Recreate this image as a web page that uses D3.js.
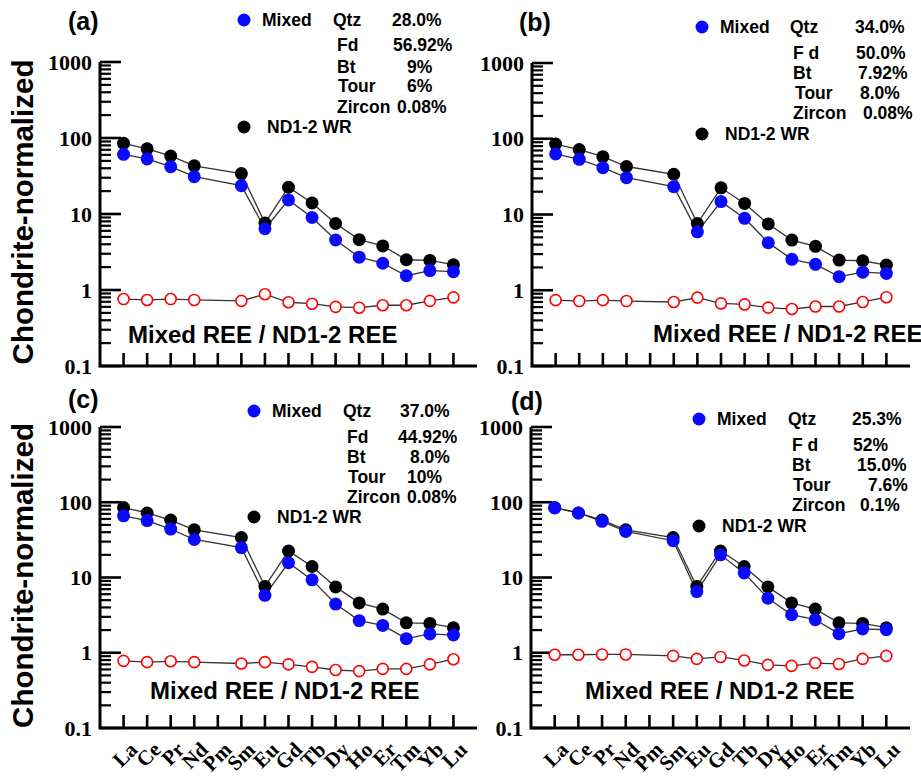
<!DOCTYPE html>
<html>
<head>
<meta charset="utf-8">
<script src="https://cdn.jsdelivr.net/npm/d3@7/dist/d3.min.js"></script>
<style>
  html, body { margin: 0; padding: 0; background: #fff; }
  svg { display: block; }
</style>
</head>
<body>
<svg id="chart" width="921" height="779"></svg>
<script>
// ---------- DATA ----------
const elements = ["La","Ce","Pr","Nd","Pm","Sm","Eu","Gd","Tb","Dy","Ho","Er","Tm","Yb","Lu"];
const yTickValues = [0.1, 1, 10, 100, 1000];
const yTickLabels = ["0.1", "1", "10", "100", "1000"];

// ND1-2 whole rock (chondrite-normalized); Pm not measured
const wrND12 = [85, 72, 58, 43, null, 34, 7.6, 22.5, 14, 7.5, 4.6, 3.8, 2.5, 2.45, 2.15];

// Mixed (modelled) REE patterns
const mixedA = [61, 53, 42, 31, null, 23.6, 6.4, 15.3, 9.0, 4.55, 2.7, 2.25, 1.54, 1.8, 1.74];
const mixedB = [63, 53.5, 41.5, 30.6, null, 23.3, 5.9, 14.8, 8.9, 4.25, 2.56, 2.2, 1.51, 1.73, 1.67];
const mixedC = [66, 57, 44, 32, null, 24.9, 5.8, 15.7, 9.3, 4.44, 2.67, 2.31, 1.54, 1.78, 1.72];
const mixedD = [84, 72, 55.7, 41, null, 30.8, 6.5, 20, 11.5, 5.3, 3.2, 2.75, 1.79, 2.07, 2.02];

// Mixed REE / ND1-2 REE ratios
const ratioA = [0.76, 0.74, 0.76, 0.74, null, 0.72, 0.88, 0.69, 0.66, 0.60, 0.585, 0.63, 0.63, 0.72, 0.80];
const ratioB = [0.74, 0.72, 0.74, 0.72, null, 0.70, 0.80, 0.67, 0.65, 0.59, 0.565, 0.61, 0.61, 0.70, 0.81];
const ratioC = [0.78, 0.75, 0.77, 0.75, null, 0.72, 0.75, 0.70, 0.65, 0.59, 0.57, 0.61, 0.61, 0.70, 0.82];
const ratioD = [0.94, 0.94, 0.95, 0.95, null, 0.91, 0.83, 0.88, 0.79, 0.69, 0.67, 0.73, 0.71, 0.83, 0.91];

// Mixing proportions
const mineralsAC = ["Qtz", "Fd", "Bt", "Tour", "Zircon"];
const mineralsBD = ["Qtz", "F d", "Bt", "Tour", "Zircon"];
const propA = ["28.0%", "56.92%", "9%", "6%", "0.08%"];
const propB = ["34.0%", "50.0%", "7.92%", "8.0%", "0.08%"];
const propC = ["37.0%", "44.92%", "8.0%", "10%", "0.08%"];
const propD = ["25.3%", "52%", "15.0%", "7.6%", "0.1%"];

const panelLabels = ["(a)", "(b)", "(c)", "(d)"];
const seriesNames = ["Mixed", "ND1-2 WR"];
const ratioTitle = "Mixed REE / ND1-2 REE";
const yTitle = "Chondrite-normalized";

// ---------- LAYOUT ----------
const panels = [
  { label: panelLabels[0], mixed: mixedA, ratio: ratioA, minerals: mineralsAC, props: propA,
    x0: 100, x1: 477, yTop: 62, yBot: 366, labelPos: [68, 30], yTitle: true, xLabels: false,
    leg: { dx: 244, dy: 20, mixedX: 262, mineralX: [333, 337, 337, 338, 337], valueX: [392, 393, 407, 407, 397],
           rowY: [20, 45, 67, 86, 107], ndY: 127, ndX: 267 },
    ratioText: [128, 343] },
  { label: panelLabels[1], mixed: mixedB, ratio: ratioB, minerals: mineralsBD, props: propB,
    x0: 532, x1: 910, yTop: 63, yBot: 366, labelPos: [519, 31], yTitle: false, xLabels: false,
    leg: { dx: 702, dy: 27, mixedX: 720, mineralX: [790, 793, 793, 795, 793], valueX: [855, 856, 858, 860, 863],
           rowY: [27, 53, 73, 93, 113], ndY: 134, ndX: 725 },
    ratioText: [653, 342] },
  { label: panelLabels[2], mixed: mixedC, ratio: ratioC, minerals: mineralsAC, props: propC,
    x0: 100, x1: 477, yTop: 427, yBot: 728, labelPos: [68, 408], yTitle: true, xLabels: true,
    leg: { dx: 254, dy: 411, mixedX: 272, mineralX: [343, 347, 347, 348, 347], valueX: [400, 398, 410, 407, 407],
           rowY: [411, 437, 457, 477, 497], ndY: 517, ndX: 277 },
    ratioText: [150, 699] },
  { label: panelLabels[3], mixed: mixedD, ratio: ratioD, minerals: mineralsBD, props: propD,
    x0: 531, x1: 910, yTop: 427, yBot: 728, labelPos: [511, 410], yTitle: false, xLabels: true,
    leg: { dx: 699, dy: 419, mixedX: 717, mineralX: [788, 792, 792, 793, 792], valueX: [852, 853, 857, 868, 860],
           rowY: [419, 445, 465, 485, 505], ndY: 526, ndX: 722 },
    ratioText: [585, 699] }
];

const svg = d3.select("#chart");
const sans = "'Liberation Sans', Arial, Helvetica, sans-serif";
const serif = "'Liberation Serif', 'Times New Roman', serif";

panels.forEach(p => {
  const g = svg.append("g");
  const x = d3.scalePoint().domain(elements).range([p.x0, p.x1]).padding(1);
  const y = d3.scaleLog().domain([0.1, 1000]).range([p.yBot, p.yTop]);

  // minor ticks (2..9 of each decade)
  const minor = [];
  for (let e = -1; e < 3; e++) for (let k = 2; k <= 9; k++) minor.push(k * Math.pow(10, e));
  g.selectAll("line.minor").data(minor).join("line")
    .attr("x1", p.x0).attr("x2", p.x0 + 11)
    .attr("y1", d => y(d)).attr("y2", d => y(d))
    .attr("stroke", "#000").attr("stroke-width", 2.2);
  g.selectAll("line.major").data(yTickValues).join("line")
    .attr("x1", p.x0).attr("x2", p.x0 + 21)
    .attr("y1", d => y(d)).attr("y2", d => y(d))
    .attr("stroke", "#000").attr("stroke-width", 2.6);

  // y tick labels
  g.selectAll("text.ytl").data(yTickValues).join("text")
    .attr("x", p.x0 - 8).attr("y", d => y(d)).attr("dy", "0.35em")
    .attr("text-anchor", "end")
    .attr("font-family", serif).attr("font-weight", "bold").attr("font-size", 22)
    .text((d, i) => yTickLabels[i]);

  // x ticks
  g.selectAll("line.xt").data(elements).join("line")
    .attr("x1", d => x(d)).attr("x2", d => x(d))
    .attr("y1", p.yBot).attr("y2", p.yBot - 13)
    .attr("stroke", "#000").attr("stroke-width", 2.6);

  // axis lines
  g.append("path")
    .attr("d", `M${p.x0},${p.yTop}V${p.yBot}H${p.x1}`)
    .attr("fill", "none").attr("stroke", "#000").attr("stroke-width", 3);

  // x labels
  if (p.xLabels) {
    g.selectAll("text.xl").data(elements).join("text")
      .attr("transform", d => `translate(${x(d) + 15},${p.yBot + 23}) rotate(-45)`)
      .attr("text-anchor", "end")
      .attr("font-family", serif).attr("font-weight", "bold").attr("font-size", 21)
      .text(d => d);
  }

  // y title
  if (p.yTitle) {
    g.append("text")
      .attr("transform", `translate(33,${(p.yTop + p.yBot) / 2 - 2}) rotate(-90)`)
      .attr("text-anchor", "middle")
      .attr("font-family", sans).attr("font-weight", "bold").attr("font-size", 29.5)
      .text(yTitle);
  }

  // panel label
  g.append("text").attr("x", p.labelPos[0]).attr("y", p.labelPos[1])
    .attr("font-family", sans).attr("font-weight", "bold").attr("font-size", 25)
    .text(p.label);

  // series
  const idx = d3.range(elements.length);
  const pts = arr => idx.filter(i => arr[i] != null);
  const line = arr => d3.line()
    .x(i => x(elements[i])).y(i => y(arr[i]))(pts(arr));

  [wrND12, p.mixed, p.ratio].forEach(arr => {
    g.append("path").attr("d", line(arr))
      .attr("fill", "none").attr("stroke", "#333").attr("stroke-width", 1.3);
  });

  g.selectAll("circle.wr").data(pts(wrND12)).join("circle")
    .attr("cx", i => x(elements[i])).attr("cy", i => y(wrND12[i])).attr("r", 6.5)
    .attr("fill", "#000");
  g.selectAll("circle.mx").data(pts(p.mixed)).join("circle")
    .attr("cx", i => x(elements[i])).attr("cy", i => y(p.mixed[i])).attr("r", 6.5)
    .attr("fill", "#0a0aff");
  g.selectAll("circle.rt").data(pts(p.ratio)).join("circle")
    .attr("cx", i => x(elements[i])).attr("cy", i => y(p.ratio[i])).attr("r", 5.5)
    .attr("fill", "#fff").attr("stroke", "#f00").attr("stroke-width", 1.6);

  // ratio title
  g.append("text").attr("x", p.ratioText[0]).attr("y", p.ratioText[1])
    .attr("font-family", sans).attr("font-weight", "bold").attr("font-size", 24)
    .text(ratioTitle);

  // legend
  const L = p.leg;
  const ft = 17.5;
  g.append("circle").attr("cx", L.dx).attr("cy", L.dy).attr("r", 6.5).attr("fill", "#0a0aff");
  g.append("text").attr("x", L.mixedX).attr("y", L.dy).attr("dy", "0.36em")
    .attr("font-family", sans).attr("font-weight", "bold").attr("font-size", ft).text(seriesNames[0]);
  p.minerals.forEach((m, i) => {
    g.append("text").attr("x", L.mineralX[i]).attr("y", L.rowY[i]).attr("dy", "0.36em")
      .attr("font-family", sans).attr("font-weight", "bold").attr("font-size", ft).text(m);
    g.append("text").attr("x", L.valueX[i]).attr("y", L.rowY[i]).attr("dy", "0.36em")
      .attr("font-family", sans).attr("font-weight", "bold").attr("font-size", ft).text(p.props[i]);
  });
  g.append("circle").attr("cx", L.dx).attr("cy", L.ndY).attr("r", 6.5).attr("fill", "#000");
  g.append("text").attr("x", L.ndX).attr("y", L.ndY).attr("dy", "0.36em")
    .attr("font-family", sans).attr("font-weight", "bold").attr("font-size", ft).text(seriesNames[1]);
});
</script>
</body>
</html>
